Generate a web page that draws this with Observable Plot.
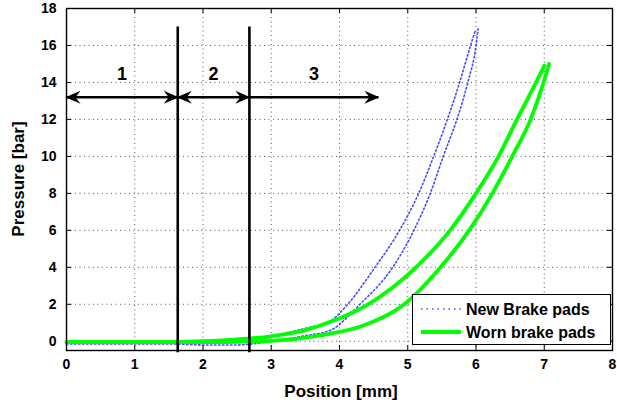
<!DOCTYPE html>
<html>
<head>
<meta charset="utf-8">
<script src="https://cdn.jsdelivr.net/npm/d3@7"></script>
<script src="https://cdn.jsdelivr.net/npm/@observablehq/plot@0.6"></script>
<style>
  body { margin: 0; background: #fff; }
  #wrap { position: relative; width: 617px; height: 410px; font-family: "Liberation Sans", Arial, sans-serif; }
  #legend { position: absolute; left: 412px; top: 294px; width: 197px; height: 49px;
            border: 1.5px solid #000; background: #fff; }
</style>
</head>
<body>
<div id="wrap"></div>
<script>
// Axis ticks
const xTicks = [0, 1, 2, 3, 4, 5, 6, 7, 8];
const yTicks = [0, 2, 4, 6, 8, 10, 12, 14, 16, 18];

// New brake pads: hysteresis loop, two branches (position mm, pressure bar)
const newUpperX = [0, 0.5, 1.0, 1.6, 2.0, 2.5, 3.0, 3.5, 3.87, 4.12, 4.52, 4.88, 5.16, 5.38, 5.58, 5.76, 5.92, 5.99];
const newUpperY = [-0.1, -0.1, -0.1, -0.1, 0.0, 0.1, 0.3, 0.7, 1.1, 2, 4, 6, 8, 10, 12, 14, 16, 16.8];
const newLowerX = [0, 0.5, 1.0, 1.6, 2.0, 2.5, 2.7, 3.0, 3.5, 3.87, 4.3, 4.78, 5.09, 5.33, 5.52, 5.72, 5.88, 6.0, 6.03];
const newLowerY = [-0.15, -0.15, -0.15, -0.15, -0.2, -0.2, -0.15, 0.0, 0.3, 0.6, 2, 4, 6, 8, 10, 12, 14, 16, 16.9];

// Worn brake pads: hysteresis loop, two branches
const wornUpperX = [0, 0.5, 1.0, 1.6, 2.0, 2.5, 3.0, 3.5, 3.87, 4.42, 5.12, 5.62, 6.0, 6.33, 6.6, 6.88, 7.0];
const wornUpperY = [-0.05, -0.05, -0.05, -0.05, 0.0, 0.1, 0.27, 0.6, 1.05, 2, 4, 6, 8, 10, 12, 14, 14.9];
const wornLowerX = [0, 0.5, 1.0, 1.6, 2.0, 2.5, 3.0, 3.5, 3.85, 4.31, 4.95, 5.48, 5.9, 6.24, 6.53, 6.8, 6.99, 7.07];
const wornLowerY = [-0.05, -0.05, -0.05, -0.05, -0.05, -0.03, 0.02, 0.2, 0.4, 0.8, 2, 4, 6, 8, 10, 12, 14, 15.0];

// Travel phases 1-3
const phaseLabels = ["1", "2", "3"];
const phaseStart = [0, 1.63, 2.68];
const phaseEnd = [1.63, 2.68, 4.57];
const phaseHeadAtStart = [true, true, false];
const boundaries = [1.63, 2.68];
const boundaryTop = 17;
const arrowLevel = 13.2;
const labelLevel = 14.45;

const seriesNames = ["New Brake pads", "Worn brake pads"];
const seriesColors = ["#1a1aff", "#00ff00"];

const toRows = (xs, ys, branch) => xs.map((x, i) => ({x, y: ys[i], branch}));
const newRows = [...toRows(newUpperX, newUpperY, "upper"), ...toRows(newLowerX, newLowerY, "lower")];
const wornRows = [...toRows(wornUpperX, wornUpperY, "upper"), ...toRows(wornLowerX, wornLowerY, "lower")];

const phases = phaseLabels.map((label, i) => ({
  label, start: phaseStart[i], end: phaseEnd[i], mid: (phaseStart[i] + phaseEnd[i]) / 2, headAtStart: phaseHeadAtStart[i]
}));

// Filled dart arrowheads, tip at the anchor point
const dartRight = {draw(ctx) { ctx.moveTo(1, 0); ctx.lineTo(-14, -6.5); ctx.lineTo(-9, 0); ctx.lineTo(-14, 6.5); ctx.closePath(); }};
const dartLeft = {draw(ctx) { ctx.moveTo(-1, 0); ctx.lineTo(14, -6.5); ctx.lineTo(9, 0); ctx.lineTo(14, 6.5); ctx.closePath(); }};

const W = 617, H = 410, mL = 66, mR = 5, mT = 8, mB = 60;
const innerW = W - mL - mR, innerH = H - mT - mB;
const tickLen = 5;
const gridStyle = {stroke: "#3a3a3a", strokeWidth: 1, strokeDasharray: "1,3.5", strokeOpacity: 0.85};

const chart = Plot.plot({
  width: W, height: H,
  marginLeft: mL, marginRight: mR, marginTop: mT, marginBottom: mB,
  style: {fontFamily: "'Liberation Sans', Arial, sans-serif", fontSize: "14px", fontWeight: "bold", color: "#000", background: "#fff", overflow: "visible"},
  x: {domain: [0, 8], ticks: xTicks, tickSize: 0, tickPadding: 9, label: null},
  y: {domain: [-0.5, 18], ticks: yTicks, tickSize: 0, tickPadding: 10, label: null},
  marks: [
    // dotted grid
    Plot.ruleX(xTicks, gridStyle),
    Plot.ruleY(yTicks, gridStyle),
    // inward tick marks on all four sides
    Plot.ruleX(xTicks, {stroke: "#000", insetTop: innerH - tickLen}),
    Plot.ruleX(xTicks, {stroke: "#000", insetBottom: innerH - tickLen}),
    Plot.ruleY(yTicks, {stroke: "#000", insetRight: innerW - tickLen}),
    Plot.ruleY(yTicks, {stroke: "#000", insetLeft: innerW - tickLen}),
    // curves
    Plot.line(newRows, {x: "x", y: "y", z: "branch", stroke: seriesColors[0], strokeWidth: 1.6,
      strokeDasharray: "1.5,2.5", strokeOpacity: 0.8, curve: "monotone-x"}),
    Plot.line(wornRows, {x: "x", y: "y", z: "branch", stroke: seriesColors[1], strokeWidth: 3.8, curve: "monotone-x"}),
    // phase boundaries
    Plot.ruleX(boundaries, {y1: -0.62, y2: boundaryTop, stroke: "#000", strokeWidth: 2.6}),
    // phase arrows
    Plot.link(phases, {x1: "start", x2: "end", y1: arrowLevel, y2: arrowLevel, stroke: "#000", strokeWidth: 2.6}),
    Plot.dot(phases, {x: "end", y: arrowLevel, symbol: dartRight, fill: "#000", stroke: "none"}),
    Plot.dot(phases.filter(d => d.headAtStart), {x: "start", y: arrowLevel, symbol: dartLeft, fill: "#000", stroke: "none"}),
    Plot.text(phases, {x: "mid", y: labelLevel, text: "label", fontSize: 18, fontWeight: "bold", fill: "#000"}),
    Plot.frame({stroke: "#000", strokeWidth: 1.4})
  ]
});

// axis titles
const svg = d3.select(chart);
svg.append("text")
  .attr("x", (mL + W - mR) / 2 + 2).attr("y", 397)
  .attr("text-anchor", "middle").style("font-size", "17px").style("font-weight", "bold")
  .text("Position [mm]");
svg.append("text")
  .attr("transform", `translate(24,${(mT + H - mB) / 2}) rotate(-90)`)
  .attr("text-anchor", "middle").style("font-size", "17px").style("font-weight", "bold")
  .text("Pressure [bar]");

const wrap = document.getElementById("wrap");
wrap.appendChild(chart);

// legend box inside the axes, lower right
const legend = document.createElement("div");
legend.id = "legend";
const lg = d3.select(legend).append("svg").attr("width", 197).attr("height", 49);
seriesNames.forEach((name, i) => {
  const cy = 14 + i * 23;
  lg.append("line").attr("x1", 8).attr("x2", 48).attr("y1", cy).attr("y2", cy)
    .attr("stroke", seriesColors[i])
    .attr("stroke-width", i === 0 ? 1.6 : 3.8)
    .attr("stroke-dasharray", i === 0 ? "1.5,4" : null)
    .attr("stroke-opacity", i === 0 ? 0.8 : 1);
  lg.append("text").attr("x", 53).attr("y", cy + 5.5)
    .style("font-family", "'Liberation Sans', Arial, sans-serif")
    .style("font-size", "16px").style("font-weight", "bold")
    .text(name);
});
wrap.appendChild(legend);
</script>
</body>
</html>
